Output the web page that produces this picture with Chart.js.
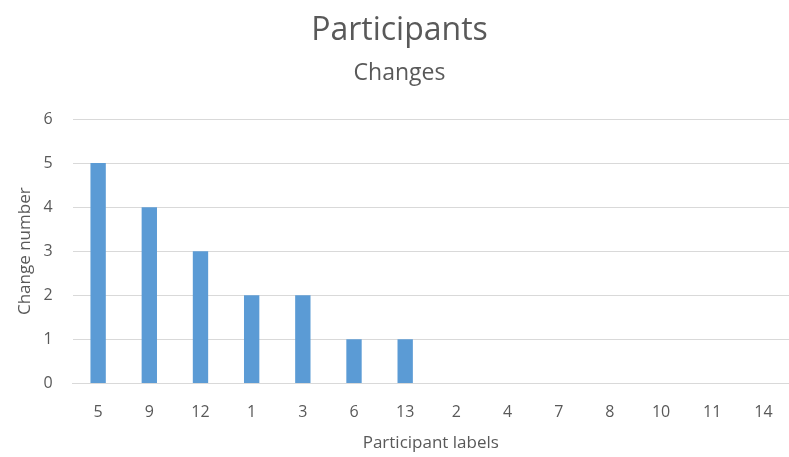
<!DOCTYPE html>
<html>
<head>
<meta charset="utf-8">
<script src="https://cdn.jsdelivr.net/npm/chart.js@4/dist/chart.umd.min.js"></script>
<style>
  html, body { margin: 0; padding: 0; background: #fff; }
  #wrap { width: 789px; height: 457px; }
</style>
</head>
<body>
<div id="wrap"><canvas id="chart"></canvas></div>
<script>
// 참가자별 변경 횟수
const participantLabels = ['5', '9', '12', '1', '3', '6', '13', '2', '4', '7', '8', '10', '11', '14'];
const changeCounts = [5, 4, 3, 2, 2, 1, 1, 0, 0, 0, 0, 0, 0, 0];
const yTicks = [0, 1, 2, 3, 4, 5, 6];

const FONT = "'Open Sans', 'Liberation Sans', sans-serif";
const TEXT = '#595959';
const GRID = '#d9d9d9';

new Chart(document.getElementById('chart'), {
    type: 'bar',
    data: {
        labels: participantLabels,
        datasets: [{
            label: 'Changes',
            data: changeCounts,
            backgroundColor: '#5b9bd5',
            barPercentage: 0.6,
            categoryPercentage: 0.5
        }]
    },
    options: {
        responsive: true,
        maintainAspectRatio: false,
        animation: false,
        layout: { padding: { left: 10, right: 0, top: 6, bottom: 0 } },
        plugins: {
            legend: { display: false },
            tooltip: { enabled: false },
            title: {
                display: true,
                text: 'Participants',
                color: TEXT,
                font: { family: FONT, size: 32, weight: 'normal' },
                padding: { top: 6, bottom: 9 }
            },
            subtitle: {
                display: true,
                text: 'Changes',
                color: TEXT,
                font: { family: FONT, size: 23, weight: 'normal' },
                padding: { top: 0, bottom: 32 }
            }
        },
        scales: {
            x: {
                grid: { display: false },
                border: { color: GRID, width: 1 },
                ticks: { color: TEXT, font: { family: FONT, size: 16 }, padding: 11 },
                title: {
                    display: true,
                    text: 'Participant labels',
                    color: TEXT,
                    font: { family: FONT, size: 17 },
                    padding: { top: 0 }
                }
            },
            y: {
                min: 0,
                max: yTicks[yTicks.length - 1],
                afterBuildTicks: axis => { axis.ticks = yTicks.map(v => ({ value: v })); },
                grid: { color: GRID, drawTicks: false },
                border: { display: false },
                ticks: { color: TEXT, font: { family: FONT, size: 16 }, padding: 20 },
                title: {
                    display: true,
                    text: 'Change number',
                    color: TEXT,
                    font: { family: FONT, size: 17 },
                    padding: { top: 5, bottom: -12 }
                }
            }
        }
    }
});
</script>
</body>
</html>
